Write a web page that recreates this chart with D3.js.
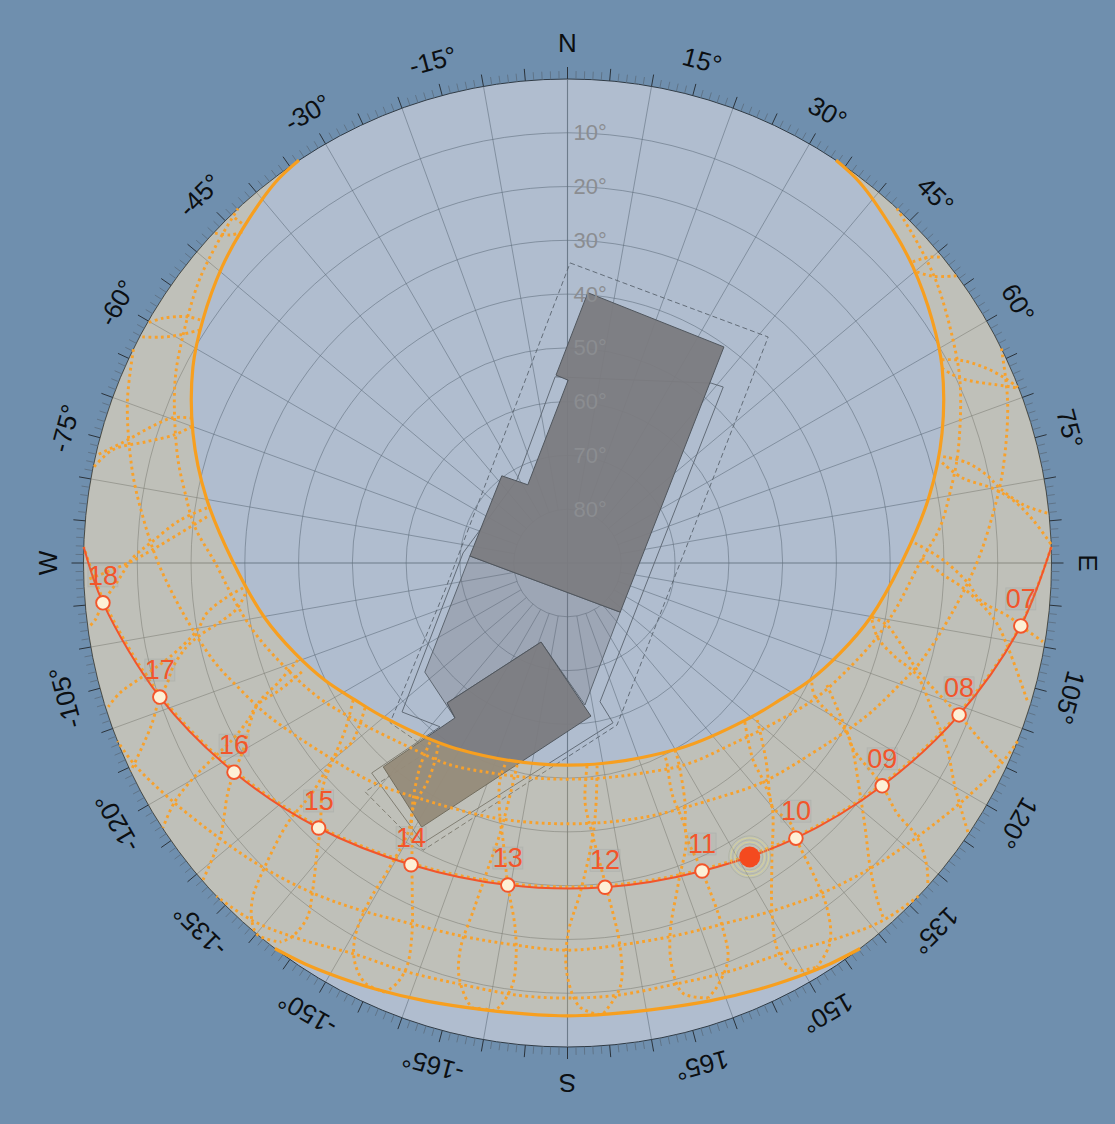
<!DOCTYPE html>
<html>
<head>
<meta charset="utf-8">
<style>
  html, body { margin: 0; padding: 0; background: #6f8fae; }
  svg { display: block; }
  text { font-family: "Liberation Sans", Arial, sans-serif; }
</style>
<script src="https://cdn.jsdelivr.net/npm/d3@7"></script>
</head>
<body>
<div id="chart"></div>
<script>
// all series are [azimuth, elevation] in degrees
const summerPath = [[33.7,0],[37.6,0.8],[44.3,3.4],[49.4,5.4],[56.3,8.5],[62.4,11.4],[70.9,16.3],[79.7,21.7],[90,27.9],[100.3,32.8],[108.3,36.6],[115.8,39.9],[122.8,43],[130.3,45.5],[148.7,49.7],[180,52.4],[-148.7,49.7],[-130.3,45.5],[-122.8,43],[-115.8,39.9],[-108.3,36.6],[-100.3,32.8],[-90,27.9],[-79.7,21.7],[-70.9,16.3],[-62.4,11.4],[-56.3,8.5],[-49.4,5.4],[-44.3,3.4],[-37.6,0.8],[-33.7,0]]
const winterPath = [[-142.8,0],[-146.8,0.9],[-151,2],[-155.7,3.1],[-162,4.4],[-169.5,5.5],[-174.6,5.8],[180,5.8],[174.6,5.8],[169.5,5.5],[162,4.4],[155.7,3.1],[151,2],[146.8,0.9],[142.8,0]]

const dayArc20 = [[42.9,0],[48.1,2],[52.8,3.8],[60,7.2],[65.4,9.7],[74.3,14.6],[79.6,17.7],[84.5,20.4],[90,24.5],[97.6,28.2],[103.4,30.8],[110.2,34],[118.2,37.3],[126.5,40.9],[138.2,44.6],[149.3,46.5],[160.2,48.5],[170.6,49.5],[180,49.8],[-170.6,49.5],[-160.2,48.5],[-149.3,46.5],[-138.2,44.6],[-126.5,40.9],[-118.2,37.3],[-110.2,34],[-103.4,30.8],[-97.6,28.2],[-90,24.5],[-84.5,20.4],[-79.6,17.7],[-74.3,14.6],[-65.4,9.7],[-60,7.2],[-52.8,3.8],[-48.1,2],[-42.9,0]]
const dayArc11 = [[63.7,0],[70,2.9],[77.9,7.2],[83.3,10.3],[90,13.9],[98,18.2],[105.8,21.9],[110.6,24.5],[116.4,27.2],[121.7,29.8],[127.7,32.3],[138.2,35.4],[147.5,38.2],[164.1,40.7],[180,41.5],[-164.1,40.7],[-147.5,38.2],[-138.2,35.4],[-127.7,32.3],[-121.7,29.8],[-116.4,27.2],[-110.6,24.5],[-105.8,21.9],[-98,18.2],[-90,13.9],[-83.3,10.3],[-77.9,7.2],[-70,2.9],[-63.7,0]]
const dayArc0 = [[88.1,0],[97.9,5],[111.2,12.2],[125.3,18.6],[140.3,23.8],[156.4,27.8],[173.4,29.6],[-169.5,29.4],[-152.6,27.1],[-136.8,22.7],[-122.1,17.1],[-108.2,10.5],[-94.9,3.6],[-88.1,0]]
const dayArcM11 = [[111.6,0],[115,1.2],[120.4,3.9],[128.1,7.4],[134.9,9.9],[142.4,12.5],[149.1,14.8],[156.1,16.8],[164.2,17.9],[172.2,18.3],[180,18],[-172.2,18.3],[-164.2,17.9],[-156.1,16.8],[-149.1,14.8],[-142.4,12.5],[-134.9,9.9],[-128.1,7.4],[-120.4,3.9],[-115,1.2],[-111.6,0]]
const dayArcM20 = [[133.5,0],[138.7,1.4],[144.2,4],[151.8,7.3],[158.3,8.3],[166.3,9.2],[173.5,9.1],[180,9.1],[-173.5,9.1],[-166.3,9.2],[-158.3,8.3],[-151.8,7.3],[-144.2,4],[-138.7,1.4],[-133.5,0]]

// one analemma per hour, each with its two strands
const analemma04 = [[[48.9,4.8],[49.7,2.1],[50.6,0.4]],[[50.2,5.4],[51.9,3.6],[53.6,0]]]
const analemma05 = [[[61.5,10.8],[62.7,7.8],[64.7,4.6],[66.9,1.9],[68.7,0.1]],[[62.5,11.5],[64.8,9.3],[68.1,1.9],[68.8,0.1]]]
const analemma06 = [[[74.2,17.4],[75.9,13.4],[78.2,10.3],[80.2,8.4],[82.7,4.6],[84.1,0.2]],[[75,17.9],[77.9,14.8],[80,9.8],[82,6.3],[84.7,3.1],[87.8,0]]]
const analemma07 = [[[86.7,25.3],[89.5,20.2],[92.9,15.4],[95.1,13],[97,7.1],[97.9,4.9],[99.4,0.4]],[[89.2,24.1],[91.8,20.1],[93.6,16.3],[95.8,12.5],[98,9.4],[101.5,6],[106.9,0.5]]]
const analemma08 = [[[100.1,32.5],[101,29.5],[103.5,26.4],[107,22],[110.2,14.8],[111.2,11.9],[113.2,6.5],[114.7,0.9]],[[100.6,32.4],[103.6,30.6],[106,26.6],[107.8,21.8],[112.3,16.5],[115.9,11.6],[120,6.8],[123.9,0.3]]]
const analemma09 = [[[115.2,36.7],[117.6,33.9],[121.5,28.8],[122.9,27],[125.3,18.3],[127.2,13.1],[128.1,7.4],[130.2,2.5],[131.9,0]],[[116.1,39.4],[118.4,37.7],[121.1,29.5],[122.9,27],[128.2,20.8],[131.6,16],[135.1,10.3],[137.4,4.9],[138.3,1.8]]]
const analemma10 = [[[129.6,44.2],[134.8,38],[139.1,32.5],[140,30.8],[139.4,26.4],[140.3,23.5],[143,9.9],[145.4,4.1],[148.3,1.7]],[[131.9,45.7],[136.7,39.7],[138,35.7],[140,30.8],[145.5,22.9],[149.7,14.6],[151.5,8.1],[151,3.5],[148.3,1.7]]]
const analemma11 = [[[150.1,49.9],[150.7,48],[153.9,40.3],[156.4,34.9],[156.4,27.5],[157,15.9],[158,10.4],[160.6,6.4],[162.1,5]],[[153.2,50.6],[153.4,49],[155.6,43],[156.4,34.9],[160.9,27],[164.5,18.6],[165.5,12.4],[165,7.2],[162.1,5]]]
const analemma12 = [[[174.5,52.1],[175.8,45.3],[174.7,39],[173.2,29.3],[172.2,17.9],[172.9,10.6],[175.6,5.7]],[[171.7,51.9],[173.2,45.1],[174.7,39],[177.8,28.6],[179.9,21.2],[-179.9,13.8],[178.4,7.4],[175.6,5.7]]]
const analemma13 = [[[-162.8,50.7],[-162.7,47.7],[-165.1,41.1],[-166.9,37.1],[-169.5,29.1],[-171.8,21.6],[-172.6,15.6],[-172.5,10.5],[-170.8,5.8],[-169.2,5.8]],[[-166,51.3],[-166.1,43.3],[-166,38.2],[-165.5,32.4],[-164.9,23.8],[-164.5,15.3],[-165.5,9.9],[-168,5.4],[-169.2,5.8]]]
const analemma14 = [[[-142.5,48],[-144.1,43.2],[-146.9,37.4],[-148.1,35.3],[-149.4,31.7],[-149.7,23.5],[-149.6,17.4],[-150.4,10],[-152,5.8],[-154.3,3.3],[-157,3.3]],[[-144.6,48.5],[-146.1,45.9],[-147.4,41.5],[-147.5,37.3],[-148.1,35.3],[-151.3,29.8],[-152.8,26.7],[-154.8,22.2],[-157.2,15.4],[-158.3,9.2],[-157.9,5.7],[-157,3.3]]]
const analemma15 = [[[-122.6,42.7],[-126.9,38.3],[-130.3,32.5],[-132.5,28.3],[-137,22.6],[-139.2,18.7],[-142.3,12.4],[-143.7,8.3],[-143.6,3.6],[-142.8,1.5]],[[-125.6,43.7],[-129.7,37.9],[-129.8,33.7],[-132,26.1],[-132.9,19],[-135.1,10.3],[-136.7,4.7],[-138.5,1.4],[-140.2,0],[-142.8,1.5]]]
const analemma16 = [[[-109.8,36.7],[-112.5,31.7],[-114.6,26.5],[-120.3,19.9],[-122.1,16.8],[-124.1,13.7],[-128.3,7.7],[-131,0.2]],[[-112.3,36.6],[-113.8,31.6],[-114.6,26.5],[-116.2,23.8],[-117.8,19.5],[-119.1,13.5],[-119.9,9.7],[-121.3,4.5],[-123.2,0.1]]]
const analemma17 = [[[-94.4,29.5],[-95.7,26.4],[-97.9,22.3],[-100.3,20],[-103.3,14],[-105,8.1],[-106.2,3.3],[-107.4,0.5]],[[-95.5,29.8],[-97.8,28],[-99.4,25.1],[-101.1,20.4],[-102.4,17.5],[-104.8,14.1],[-106.7,12.3],[-108.2,10.2],[-111.1,7.2],[-113.4,3.8],[-115.5,0]]]
const analemma18 = [[[-81.3,22.2],[-83.7,17.5],[-87.1,12.6],[-89.3,9.2],[-92.2,6.4],[-94.9,3.3],[-96.9,1.5],[-97.7,0]],[[-82.7,22.4],[-85.9,17.2],[-88.2,12.7],[-89.9,8.6],[-92,0.6]]]
const analemma19 = [[[-68.9,15.2],[-69.8,11.8],[-72,8.4],[-74.4,5],[-77.1,0.2]],[[-70,15.7],[-71.9,13.2],[-73.9,8.6],[-76,2.9],[-78.7,0]]]
const analemma20 = [[[-56.5,8.1],[-57.1,5.7],[-58.8,2.1],[-60.3,0]],[[-57.6,9.1],[-59.5,6.4],[-61,3.4],[-62.1,0.1]]]
const analemma21 = [[[-43.8,2.5],[-44,0.2]],[[-44.5,3.7],[-45.8,2.5],[-46.9,0.2]]]

// today's sun path: the two horizon ends and the hourly positions
const sunPathEnds = [[88.1,0],[-88.1,0]]
const sunHours = ["07","08","09","10","11","12","13","14","15","16","17","18"]
const sunHourPos = [[97.9,4.9],[111.2,11.9],[125.3,18.3],[140.3,23.5],[156.4,27.5],[173.4,29.3],[-169.5,29.1],[-152.6,26.8],[-136.8,22.4],[-122.1,16.8],[-108.2,10.2],[-94.9,3.3]]
const sunNow = [148.2,25.7]

// roof outlines seen in the sky dome
const buildingUpper = [[4.3,39.6],[35.9,40.4],[133,76.6],[-85.9,71.8],[-37,69.7],[-26.9,73.7],[0.2,56],[-3.5,55]]
const buildingLower = [[-161.5,74.5],[171.3,61.2],[-151.1,33.9],[-137.9,38.9],[-144,54.4],[-139.3,55.7]]
const obstructionMid = [[-85.9,71.8],[133,76.6],[173,63.4],[-161.5,74.5],[-139.3,55.7],[-144,54.4],[-127.4,56.6]]
const roofOutline = [[38.6,47.2],[41.5,46.3],[166.8,63.5],[164.1,59.1],[-152.7,31.4],[-137,36.6],[-142.1,51.4],[-132,48.6],[-84.5,70.5],[-31.3,71.9],[-3.8,55.3]]
const dashOutline = [[0.5,34.2],[41.6,33.8],[163,58.5],[-153.3,30.2],[-138.5,33.2],[-143.7,46.8],[-132,45.6],[-102.4,66.7]]

const elevTicks = [10,20,30,40,50,60,70,80]
const azLabelAngles = [-165,-150,-135,-120,-105,-90,-75,-60,-45,-30,-15,0,15,30,45,60,75,90,105,120,135,150,165,180]
const azLabelTexts = ["-165°","-150°","-135°","-120°","-105°","W","-75°","-60°","-45°","-30°","-15°","N","15°","30°","45°","60°","75°","E","105°","120°","135°","150°","165°","S"]

const width = 1115
const height = 1124
const cx = 567.5
const cy = 563
const R = 484

const rScale = d3.scaleLinear().domain([90, 0]).range([0, R])
const aScale = d3.scaleLinear().domain([-180, 180]).range([-Math.PI, Math.PI])

function project(az, el) {
    const a = aScale(az), r = rScale(el)
    return [r * Math.sin(a), -r * Math.cos(a)]
}

const curved = d3.lineRadial().angle(d => aScale(d[0])).radius(d => rScale(d[1])).curve(d3.curveCatmullRom.alpha(0.5))
const closedPoly = d3.lineRadial().angle(d => aScale(d[0])).radius(d => rScale(d[1])).curve(d3.curveLinearClosed)

const svg = d3.select("#chart").append("svg").attr("width", width).attr("height", height)
svg.append("rect").attr("width", width).attr("height", height).attr("fill", "#6f8fae")
const g = svg.append("g").attr("transform", `translate(${cx},${cy})`)

// sky dome
g.append("circle").attr("r", R).attr("fill", "#b0bdcf").attr("stroke", "#2f3a44").attr("stroke-width", 1)

// grid, under the roofs so it only shows faintly through them
const gridG = g.append("g").attr("fill", "none")
for (const e of elevTicks) {
    gridG.append("circle").attr("r", rScale(e)).attr("stroke", "#5d6b79").attr("stroke-opacity", 0.62).attr("stroke-width", 0.9)
}
for (const a of d3.range(-170, 190, 10)) {
    const axis = a % 90 === 0
    const inner = project(a, axis ? 90 : 80), outer = project(a, 0)
    gridG.append("line").attr("x1", inner[0]).attr("y1", inner[1]).attr("x2", outer[0]).attr("y2", outer[1])
        .attr("stroke", "#5d6b79").attr("stroke-opacity", axis ? 0.8 : 0.62).attr("stroke-width", axis ? 1.1 : 0.9)
}

// outlines, then the solid roofs
g.append("path").attr("d", closedPoly(dashOutline)).attr("fill", "none")
    .attr("stroke", "#59636e").attr("stroke-width", 0.9).attr("stroke-dasharray", "5,3")
g.append("path").attr("d", closedPoly(roofOutline)).attr("fill", "none")
    .attr("stroke", "#626c78").attr("stroke-width", 1)
g.append("path").attr("d", closedPoly(obstructionMid)).attr("fill", "#70707c").attr("fill-opacity", 0.3)
    .attr("stroke", "#5d6670").attr("stroke-width", 1)
for (const poly of [buildingUpper, buildingLower]) {
    g.append("path").attr("d", closedPoly(poly)).attr("fill", "#7b7b80").attr("fill-opacity", 0.95)
        .attr("stroke", "#50565d").attr("stroke-width", 1)
}

// band the sun can reach through the year
const hEast = project(33.7, 0)
const wWest = project(-142.8, 0)
const band = curved(summerPath)
    + `A${R},${R} 0 0 0 ${wWest[0]},${wWest[1]}`
    + curved(winterPath).replace("M", "L")
    + `A${R},${R} 0 0 0 ${hEast[0]},${hEast[1]}Z`
g.append("path").attr("d", band).attr("fill", "rgb(255,205,100)").attr("fill-opacity", 0.2)

// degree ticks round the rim
for (const a of d3.range(-180, 180, 1)) {
    const major = a % 5 === 0
    const t = aScale(a), len = major ? 12 : 8
    g.append("line")
        .attr("x1", R * Math.sin(t)).attr("y1", -R * Math.cos(t))
        .attr("x2", (R + len) * Math.sin(t)).attr("y2", -(R + len) * Math.cos(t))
        .attr("stroke", major ? "#2b333b" : "#5e7083").attr("stroke-width", major ? 1 : 0.9)
}

azLabelAngles.forEach((a, i) => {
    const t = aScale(a), rl = R + 36
    g.append("text")
        .attr("transform", `translate(${rl * Math.sin(t)},${-rl * Math.cos(t)}) rotate(${a})`)
        .attr("text-anchor", "middle").attr("dominant-baseline", "central")
        .attr("font-size", 26).attr("fill", "#0c0f12")
        .text(azLabelTexts[i])
})

for (const e of elevTicks) {
    g.append("text").attr("x", 6).attr("y", -rScale(e))
        .attr("dominant-baseline", "central").attr("font-size", 22)
        .attr("fill", "#8b8d91").text(e + "°")
}

// day arcs and analemmas, all dotted
const dotG = g.append("g").attr("fill", "none").attr("stroke", "#f7a12c")
    .attr("stroke-width", 2.9).attr("stroke-dasharray", "2.8,3.4")
for (const arc of [dayArc20, dayArc11, dayArc0, dayArcM11, dayArcM20]) {
    dotG.append("path").attr("d", curved(arc))
}
const analemmas = [analemma04, analemma05, analemma06, analemma07, analemma08, analemma09, analemma10, analemma11,
    analemma12, analemma13, analemma14, analemma15, analemma16, analemma17, analemma18, analemma19, analemma20, analemma21]
for (const an of analemmas) {
    for (const strand of an) dotG.append("path").attr("d", curved(strand))
}

// solstice paths
for (const p of [summerPath, winterPath]) {
    g.append("path").attr("d", curved(p)).attr("fill", "none").attr("stroke", "#f79f1f").attr("stroke-width", 3.2)
}

// today's path
const sunPts = [sunPathEnds[0], ...sunHourPos, sunPathEnds[1]]
g.append("path").attr("d", curved(sunPts)).attr("fill", "none").attr("stroke", "#f2552b").attr("stroke-width", 2)

// sun now, with its halo
const nowXY = project(sunNow[0], sunNow[1])
const haloR = [13, 15, 17, 19, 21]
haloR.forEach((r, i) => {
    g.append("circle").attr("cx", nowXY[0]).attr("cy", nowXY[1]).attr("r", r).attr("fill", "none")
        .attr("stroke", i % 2 ? "#e7e27c" : "#a3aa96").attr("stroke-opacity", 0.7).attr("stroke-width", 0.8)
})
g.append("circle").attr("cx", nowXY[0]).attr("cy", nowXY[1]).attr("r", 10.5).attr("fill", "#f44a1f")

sunHourPos.forEach((pos, i) => {
    const p = project(pos[0], pos[1])
    g.append("circle").attr("cx", p[0]).attr("cy", p[1]).attr("r", 6.8)
        .attr("fill", "#fdf0d6").attr("stroke", "#f2552b").attr("stroke-width", 1.9)
    const label = g.append("text").attr("x", p[0]).attr("y", p[1] - 27)
        .attr("text-anchor", "middle").attr("dominant-baseline", "central")
        .attr("font-size", 27).attr("fill", "#f2552b").text(sunHours[i])
    const bbox = label.node().getBBox()
    g.insert("rect", () => label.node())
        .attr("x", bbox.x).attr("y", bbox.y + 4).attr("width", bbox.width).attr("height", bbox.height - 8)
        .attr("fill", "#9a9a94").attr("fill-opacity", 0.1)
        .attr("stroke", "#8d9296").attr("stroke-opacity", 0.25).attr("stroke-width", 0.8)
})
</script>
</body>
</html>
